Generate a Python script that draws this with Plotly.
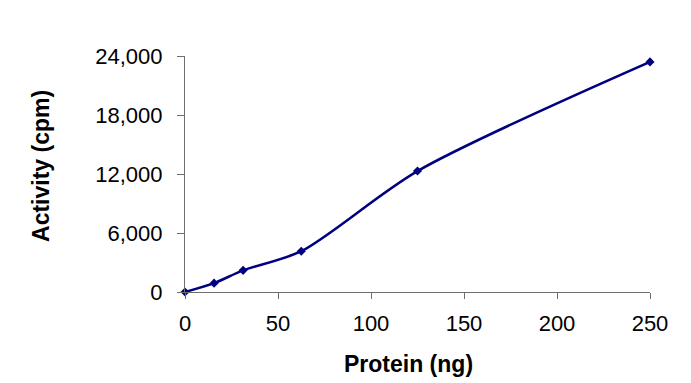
import plotly.graph_objects as go

protein_ng = [0, 15.625, 31.25, 62.5, 125, 250]
activity_cpm = [0, 900, 2200, 4150, 12300, 23400]
x_ticks = [0, 50, 100, 150, 200, 250]
y_ticks = [0, 6000, 12000, 18000, 24000]
y_tick_labels = ["0", "6,000", "12,000", "18,000", "24,000"]

fig = go.Figure()
fig.add_trace(go.Scatter(
    x=protein_ng, y=activity_cpm,
    mode="lines+markers",
    line=dict(color="#000080", width=2.5, shape="spline", smoothing=0.8),
    marker=dict(symbol="diamond", size=7, color="#000080"),
    cliponaxis=False,
    showlegend=False,
))

FONT = "Liberation Sans, Arial, sans-serif"
axis_font = dict(family=FONT, size=22, color="#000000")
title_font = dict(family=FONT, size=23, color="#000000")

fig.update_layout(
    width=683, height=375,
    margin=dict(l=177, r=41, t=48, b=91),
    paper_bgcolor="white", plot_bgcolor="white",
    xaxis=dict(
        range=[0, 250], tickvals=x_ticks, ticktext=[str(v) for v in x_ticks],
        showline=True, linecolor="#6e6e6e", linewidth=1.2,
        ticks="outside", ticklen=6, tickcolor="#6e6e6e", tickwidth=1.2,
        showgrid=False, zeroline=False, tickfont=axis_font,
        ticklabelstandoff=5,
    ),
    yaxis=dict(
        range=[0, 24000], tickvals=y_ticks, ticktext=y_tick_labels,
        showline=True, linecolor="#6e6e6e", linewidth=1.2,
        ticks="outside", ticklen=7, tickcolor="#6e6e6e", tickwidth=1.2,
        showgrid=False, zeroline=False, tickfont=axis_font,
        ticklabelstandoff=10,
    ),
    annotations=[
        dict(text="<b>Protein (ng)</b>", xref="paper", yref="paper",
             x=0.4796, y=-0.305, xanchor="center", yanchor="middle",
             showarrow=False, font=title_font),
        dict(text="<b>Activity (cpm)</b>", xref="paper", yref="paper",
             x=-0.3097, y=0.534, xanchor="center", yanchor="middle",
             textangle=-90, showarrow=False, font=title_font),
    ],
)

fig.write_html("out.html")
